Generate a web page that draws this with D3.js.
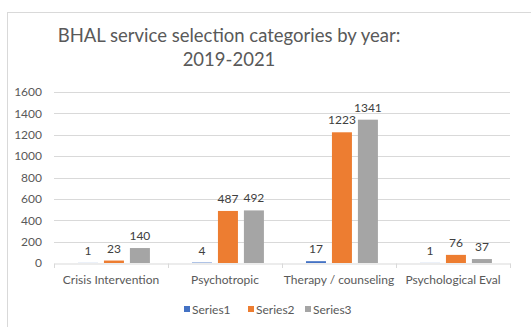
<!DOCTYPE html>
<html>
<head>
<meta charset="utf-8">
<script src="https://cdn.jsdelivr.net/npm/d3@7"></script>
<style>
  html, body { margin: 0; padding: 0; background: #fff; }
  svg { display: block; font-family: Lato, "Open Sans", sans-serif; }
</style>
</head>
<body>
<svg id="chart" width="531" height="327"></svg>
<script>
const categories = ["Crisis Intervention", "Psychotropic", "Therapy / counseling", "Psychological Eval"];
const seriesNames = ["Series1", "Series2", "Series3"];
const series1 = [1, 4, 17, 1];
const series2 = [23, 487, 1223, 76];
const series3 = [140, 492, 1341, 37];
const yTicks = [0, 200, 400, 600, 800, 1000, 1200, 1400, 1600];
const colors = ["#4472C4", "#ED7D31", "#A5A5A5"];

const svg = d3.select("#chart");
const allSeries = [series1, series2, series3];
const font = "Lato, 'Open Sans', sans-serif";

// chart frame
svg.append("rect")
  .attr("x", 7.5).attr("y", 12.5)
  .attr("width", 540).attr("height", 340)
  .attr("fill", "#fff").attr("stroke", "#d9d9d9");

// title
const title = svg.append("text")
  .attr("text-anchor", "middle")
  .attr("fill", "#595959")
  .style("font-size", "18.5px");
title.append("tspan").attr("x", 229).attr("y", 42).text("BHAL service selection categories by year:");
title.append("tspan").attr("x", 229).attr("y", 66).text("2019-2021");

const x = d3.scaleBand().domain(categories).range([54, 510]).paddingInner(0).paddingOuter(0);
const y = d3.scaleLinear().domain([0, 1600]).range([263, 92]);
const xs = d3.scaleBand().domain(seriesNames).range([0, x.bandwidth()])
  .paddingInner(0.23).paddingOuter(0.81).align(0.57);

// gridlines
svg.append("g")
  .selectAll("line").data(yTicks.filter(d => d > 0)).join("line")
  .attr("x1", 54).attr("x2", 510)
  .attr("y1", d => Math.round(y(d)) + 0.5).attr("y2", d => Math.round(y(d)) + 0.5)
  .attr("stroke", "#d9d9d9");

// y axis labels
const yAxis = svg.append("g")
  .attr("transform", "translate(54,0)")
  .call(d3.axisLeft(y).tickValues(yTicks).tickSize(0).tickPadding(12).tickFormat(d3.format("d")));
yAxis.select(".domain").remove();
yAxis.selectAll("text").attr("fill", "#595959").style("font-size", "12px").style("font-family", font);

// bars
const groups = svg.append("g").selectAll("g").data(categories).join("g")
  .attr("transform", d => `translate(${x(d)},0)`);

seriesNames.forEach((s, si) => {
  groups.append("rect")
    .attr("x", xs(s))
    .attr("width", xs.bandwidth())
    .attr("y", (d, i) => y(allSeries[si][i]))
    .attr("height", (d, i) => y(0) - y(allSeries[si][i]))
    .attr("fill", colors[si]);
  groups.append("text")
    .attr("x", xs(s) + xs.bandwidth() / 2)
    .attr("y", (d, i) => y(allSeries[si][i]) - 8)
    .attr("text-anchor", "middle")
    .attr("fill", "#404040")
    .style("font-size", "12px")
    .text((d, i) => allSeries[si][i]);
});

// x axis
const xAxis = svg.append("g")
  .attr("transform", "translate(0,263.5)")
  .call(d3.axisBottom(x).tickSize(0).tickPadding(12));
xAxis.select(".domain").attr("stroke", "#d9d9d9");
xAxis.selectAll("text").attr("fill", "#595959").style("font-size", "12px").style("font-family", font);
svg.append("g").selectAll("line")
  .data(categories.map(c => x(c)).concat([x.range()[1]])).join("line")
  .attr("x1", d => Math.round(d) + 0.5).attr("x2", d => Math.round(d) + 0.5)
  .attr("y1", 263.5).attr("y2", 268)
  .attr("stroke", "#d9d9d9");

// legend
const legendX = [184, 248, 305];
const legend = svg.append("g").selectAll("g").data(seriesNames).join("g")
  .attr("transform", (d, i) => `translate(${legendX[i]},314)`);
legend.append("rect").attr("x", 0).attr("y", -8).attr("width", 6).attr("height", 6)
  .attr("fill", (d, i) => colors[i]);
legend.append("text").attr("x", 8).attr("y", 0)
  .attr("fill", "#595959").style("font-size", "12px").text(d => d);
</script>
</body>
</html>
